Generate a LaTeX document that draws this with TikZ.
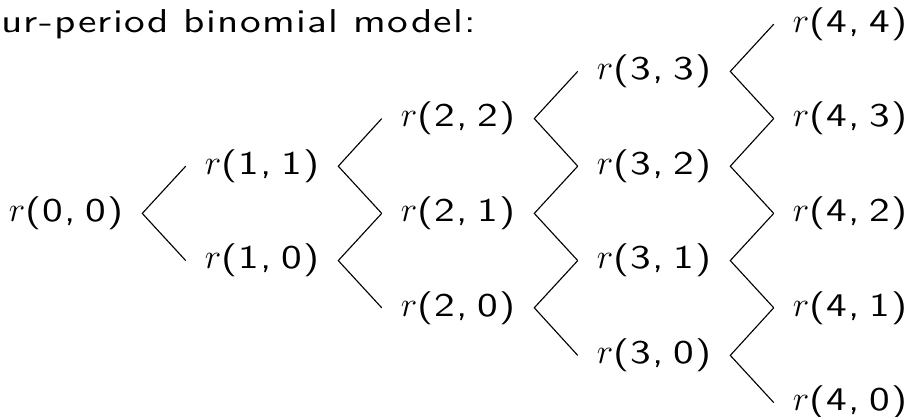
\documentclass[tikz,border=0pt]{standalone}
\usepackage{fontspec}
\setsansfont{lmsans10-regular}[Extension=.otf, FakeStretch=1.25, LetterSpace=4]
\renewcommand{\familydefault}{\sfdefault}
\begin{document}
\begin{tikzpicture}[every node/.style={font=\fontsize{23.5}{28}\selectfont},
  lbl/.style={minimum width=3.8cm,inner xsep=0pt,inner ysep=0pt},
  branch/.style={line width=0.8pt}]
\useasboundingbox (0,0) rectangle (22.8,10.425);
% title
\node[anchor=base west,inner sep=0pt] (title) at (0.02,9.6) {ur-period binomial model:};
% period 0
\node[lbl] (r00) at (1.65,5.09) {$r$(0,\;0)};
% period 1
\node[lbl] (r11) at (6.55,6.27) {$r$(1,\;1)};
\node[lbl] (r10) at (6.55,3.91) {$r$(1,\;0)};
% period 2
\node[lbl] (r22) at (11.45,7.46) {$r$(2,\;2)};
\node[lbl] (r21) at (11.45,5.09) {$r$(2,\;1)};
\node[lbl] (r20) at (11.45,2.73) {$r$(2,\;0)};
% period 3
\node[lbl] (r33) at (16.35,8.64) {$r$(3,\;3)};
\node[lbl] (r32) at (16.35,6.27) {$r$(3,\;2)};
\node[lbl] (r31) at (16.35,3.91) {$r$(3,\;1)};
\node[lbl] (r30) at (16.35,1.54) {$r$(3,\;0)};
% period 4
\node[lbl] (r44) at (21.25,9.82) {$r$(4,\;4)};
\node[lbl] (r43) at (21.25,7.46) {$r$(4,\;3)};
\node[lbl] (r42) at (21.25,5.09) {$r$(4,\;2)};
\node[lbl] (r41) at (21.25,2.73) {$r$(4,\;1)};
\node[lbl] (r40) at (21.25,0.36) {$r$(4,\;0)};
% branches
\draw[branch] (r11.west) -- (r00.east) -- (r10.west);
\draw[branch] (r22.west) -- (r11.east) -- (r21.west);
\draw[branch] (r21.west) -- (r10.east) -- (r20.west);
\draw[branch] (r33.west) -- (r22.east) -- (r32.west);
\draw[branch] (r32.west) -- (r21.east) -- (r31.west);
\draw[branch] (r31.west) -- (r20.east) -- (r30.west);
\draw[branch] (r44.west) -- (r33.east) -- (r43.west);
\draw[branch] (r43.west) -- (r32.east) -- (r42.west);
\draw[branch] (r42.west) -- (r31.east) -- (r41.west);
\draw[branch] (r41.west) -- (r30.east) -- (r40.west);
\end{tikzpicture}
\end{document}
